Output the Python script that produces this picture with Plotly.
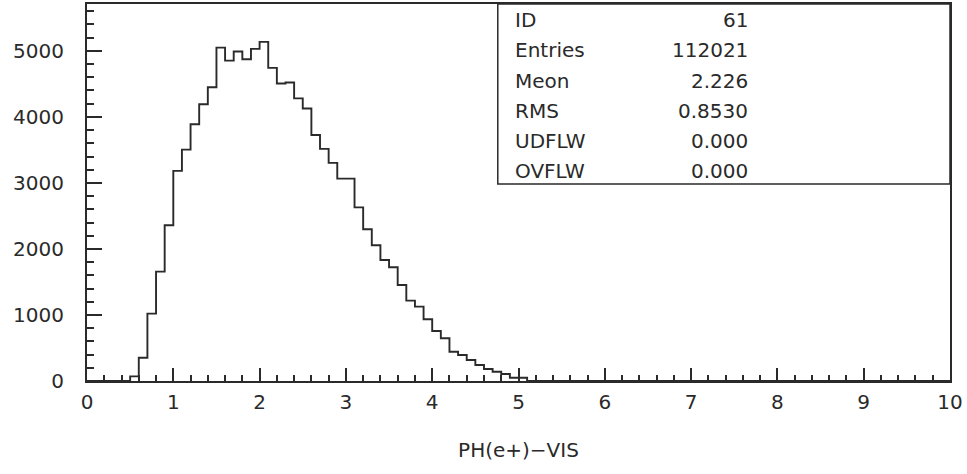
import plotly.graph_objects as go

# ---------------- data ----------------
bin_width = 0.1
x_min, x_max = 0.0, 10.0
first_filled_bin = 0.5  # lower edge of first non-empty bin
counts_filled = [
    70, 353, 1020, 1657, 2359, 3182, 3505, 3889, 4192,          # 0.5 - 1.4
    4450, 5050, 4853, 4990, 4874, 5030, 5136, 4742, 4505, 4520,  # 1.4 - 2.4
    4280, 4128, 3727, 3515, 3303, 3065, 3065, 2630, 2298, 2055,  # 2.4 - 3.4
    1833, 1722, 1455, 1217, 1126, 935, 758, 647, 444, 394,       # 3.4 - 4.4
    318, 242, 182, 141, 106, 50, 50,                             # 4.4 - 5.1
]
x_ticks = [0, 1, 2, 3, 4, 5, 6, 7, 8, 9, 10]
y_ticks = [0, 1000, 2000, 3000, 4000, 5000]
x_title = "PH(e+)\u2212VIS"

stat_labels = ["ID", "Entries", "Meon", "RMS", "UDFLW", "OVFLW"]
stat_values = ["61", "112021", "2.226", "0.8530", "0.000", "0.000"]

# ---------------- build histogram ----------------
n_bins = int(round((x_max - x_min) / bin_width))
edges = [round(x_min + i * bin_width, 4) for i in range(n_bins + 1)]
start = int(round((first_filled_bin - x_min) / bin_width))
counts = [0] * n_bins
for i, c in enumerate(counts_filled):
    counts[start + i] = c
step_y = counts + [counts[-1]]

INK = "#2a2a2a"
FONT = "DejaVu Sans"
FS = 20

fig = go.Figure()
fig.add_trace(go.Scatter(
    x=edges, y=step_y, mode="lines", line_shape="hv",
    line=dict(color=INK, width=1.9), showlegend=False, hoverinfo="skip",
))

fig.update_layout(
    width=967, height=474,
    margin=dict(l=87, r=17, t=4, b=93, autoexpand=False),
    paper_bgcolor="white", plot_bgcolor="white",
    font=dict(family=FONT, size=FS, color=INK),
    showlegend=False,
)
fig.update_xaxes(
    range=[x_min, x_max], tickvals=x_ticks, ticktext=[str(v) for v in x_ticks],
    ticks="inside", ticklen=13, tickwidth=1.5, tickcolor=INK,
    minor=dict(dtick=0.2, ticks="inside", ticklen=6, tickwidth=1.5, tickcolor=INK),
    showline=True, linecolor=INK, linewidth=2, mirror=True,
    showgrid=False, zeroline=False, ticklabelstandoff=2, automargin=False,
    tickfont=dict(size=FS, family=FONT, color=INK),
    title=dict(text=x_title, font=dict(size=FS, family=FONT, color=INK), standoff=30),
)
fig.update_yaxes(
    range=[0, 5710], tickvals=y_ticks, ticktext=[str(v) for v in y_ticks],
    ticks="inside", ticklen=15, tickwidth=1.5, tickcolor=INK,
    minor=dict(dtick=200, ticks="inside", ticklen=7, tickwidth=1.5, tickcolor=INK),
    showline=True, linecolor=INK, linewidth=2, mirror=True,
    showgrid=False, zeroline=False, ticklabelstandoff=17, automargin=False,
    tickfont=dict(size=FS, family=FONT, color=INK),
)

# ---------------- statistics box ----------------
box_x0, box_y0 = 0.476, 0.5225
fig.add_shape(type="rect", xref="paper", yref="paper",
              x0=box_x0, x1=1.0, y0=box_y0, y1=1.0,
              line=dict(color=INK, width=1.5), fillcolor="white", layer="above")
row_y = [0.9576, 0.877, 0.797, 0.716, 0.637, 0.556]
for lab, val, yy in zip(stat_labels, stat_values, row_y):
    fig.add_annotation(xref="paper", yref="paper", x=0.4936, y=yy, text=lab,
                       showarrow=False, xanchor="left", yanchor="middle",
                       font=dict(size=FS, family=FONT, color=INK))
    fig.add_annotation(xref="paper", yref="paper", x=0.7683, y=yy, text=val,
                       showarrow=False, xanchor="right", yanchor="middle",
                       font=dict(size=FS, family=FONT, color=INK))

fig.write_html(
    "out.html",
    config={"displayModeBar": False},
    post_script="document.body.style.margin='0';document.body.style.padding='0';"
                "document.body.style.overflow='hidden';",
)
